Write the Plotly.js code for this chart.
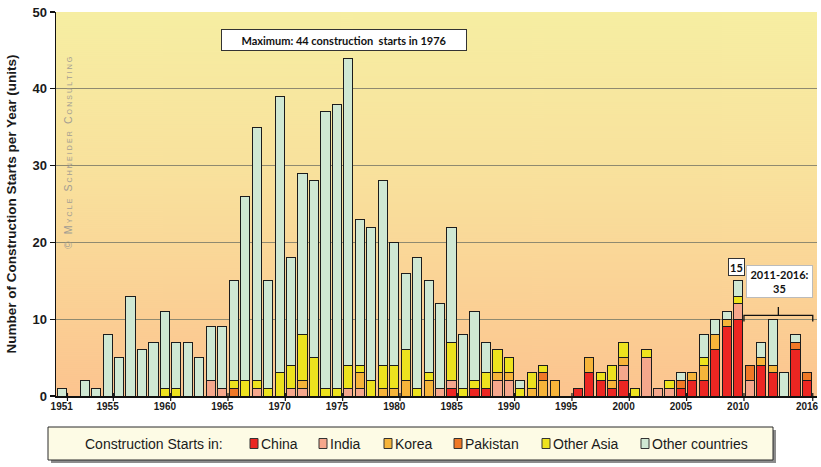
<!DOCTYPE html>
<html>
<head>
<meta charset="utf-8">
<script src="https://cdn.plot.ly/plotly-3.0.1.min.js"></script>
<style>
  html, body { margin: 0; padding: 0; background: #ffffff; }
  #chart { width: 821px; height: 467px; }
</style>
</head>
<body>
<div id="chart"></div>
<script>
// Reactor construction starts per year, by country group
const years = [1951,1952,1953,1954,1955,1956,1957,1958,1959,1960,
               1961,1962,1963,1964,1965,1966,1967,1968,1969,1970,
               1971,1972,1973,1974,1975,1976,1977,1978,1979,1980,
               1981,1982,1983,1984,1985,1986,1987,1988,1989,1990,
               1991,1992,1993,1994,1995,1996,1997,1998,1999,2000,
               2001,2002,2003,2004,2005,2006,2007,2008,2009,2010,
               2011,2012,2013,2014,2015,2016];

const china          = [0,0,0,0,0,0,0,0,0,0, 0,0,0,0,0,0,0,0,0,0, 0,0,0,0,0,0,0,0,0,0, 0,0,0,0,1,0,1,1,0,0, 0,0,0,0,0,1,3,2,1,2, 0,0,0,0,1,2,2,6,9,10, 0,4,3,0,6,2];
const india          = [0,0,0,0,0,0,0,0,0,0, 0,0,0,2,1,0,0,1,0,0, 1,1,0,0,0,1,1,0,0,0, 0,0,0,1,1,0,0,0,2,2, 0,0,0,0,0,0,0,0,0,2, 0,5,1,1,0,0,0,0,0,2, 2,0,0,0,0,0];
const korea          = [0,0,0,0,0,0,0,0,0,0, 0,0,0,0,0,0,0,0,0,0, 0,1,0,0,0,0,2,0,1,1, 2,0,2,0,0,0,0,0,1,1, 0,1,2,2,0,0,2,0,1,1, 0,0,0,0,0,1,2,2,1,0, 0,1,1,0,0,0];
const pakistan       = [0,0,0,0,0,0,0,0,0,0, 0,0,0,0,0,1,0,0,0,0, 0,0,0,0,0,0,0,0,0,0, 0,0,0,0,0,0,0,0,0,0, 0,0,1,0,0,0,0,0,0,0, 0,0,0,0,1,0,0,0,0,0, 2,0,0,0,1,1];
const otherAsia      = [0,0,0,0,0,0,0,0,0,1, 1,0,0,0,0,1,2,1,1,3, 3,6,5,1,1,3,1,2,3,3, 4,1,1,0,5,1,1,2,3,2, 1,2,1,0,0,0,0,1,2,2, 1,1,0,1,0,0,1,0,0,1, 0,0,0,0,0,0];
const otherCountries = [1,0,2,1,8,5,13,6,7,10, 6,7,5,7,8,13,24,33,14,36, 14,21,23,36,37,40,19,20,24,16, 10,17,12,11,15,7,9,4,0,0, 1,0,0,0,0,0,0,0,0,0, 0,0,0,0,1,0,3,2,1,2, 0,2,6,3,1,0];

const tickYears = [1951,1955,1960,1965,1970,1975,1980,1985,1990,1995,2000,2005,2010,2016];

const seriesNames  = ['China', 'India', 'Korea', 'Pakistan', 'Other Asia', 'Other countries'];
const seriesColors = ['#ec2622', '#f5a78c', '#f6b43a', '#ef7826', '#ede21e', '#cfe8d3'];
const seriesValues = [china, india, korea, pakistan, otherAsia, otherCountries];

// Yearly totals feed the callout labels
const totals = years.map((_, i) => seriesValues.reduce((s, arr) => s + arr[i], 0));
const maxTotal = Math.max(...totals);
const maxYear = years[totals.indexOf(maxTotal)];
const total2010 = totals[years.indexOf(2010)];
const sum2011to2016 = years.reduce((s, y, i) => s + (y >= 2011 && y <= 2016 ? totals[i] : 0), 0);

const traces = seriesNames.map((name, k) => ({
  type: 'bar',
  name: name,
  x: years,
  y: seriesValues[k].map(v => (v === 0 ? null : v)),
  marker: { color: seriesColors[k], line: { color: '#1c1c1c', width: 1 } },
  hoverinfo: 'skip'
}));

// Plot-area geometry in pixels (used to place the legend panel below the axes)
const W = 821, H = 467;
const M = { l: 56, r: 4, t: 12, b: 71 };
const plotW = W - M.l - M.r, plotH = H - M.t - M.b;
const px = x => (x - M.l) / plotW;
const py = y => (H - M.b - y) / plotH;

// Warm vertical wash behind the plot area
function gradientURL() {
  const c = document.createElement('canvas');
  c.width = 4; c.height = plotH;
  const g = c.getContext('2d');
  const grad = g.createLinearGradient(0, 0, 0, plotH);
  grad.addColorStop(0, '#f6eea2');
  grad.addColorStop(0.45, '#f9e09c');
  grad.addColorStop(1, '#fcc48f');
  g.fillStyle = grad;
  g.fillRect(0, 0, 4, plotH);
  return c.toDataURL();
}

// Small tick marks at category boundaries under each labelled year
const tickShapes = tickYears.map(y => ({
  type: 'line', xref: 'x', yref: 'paper',
  x0: y + 0.5, x1: y + 0.5, y0: -0.013, y1: 0.008,
  line: { color: '#111', width: 1.2 }
}));

// Brace spanning 2011-2016
const bx0 = 2010.5, bx1 = 2016.5, bxm = 2013.5;
const braceShape = {
  type: 'path', xref: 'x', yref: 'y',
  path: `M ${bx0},9.7 L ${bx0},10.5 L ${bx1},10.5 L ${bx1},9.7 M ${bxm},10.5 L ${bxm},11.6`,
  line: { color: '#111', width: 1.3 }
};

// Legend panel: shadow, framed box, swatches and labels
const legendBox = { x0: 48, x1: 773, y0: 427, y1: 460 };
const legendMidY = (legendBox.y0 + legendBox.y1) / 2;
const swatchLeft = [250, 319, 384, 454, 542, 641];
const legendShapes = [
  { type: 'rect', xref: 'paper', yref: 'paper', layer: 'above',
    x0: px(legendBox.x0 + 3), x1: px(legendBox.x1 + 3), y0: py(legendBox.y1 + 3), y1: py(legendBox.y0 + 3),
    fillcolor: '#8c8c8c', line: { width: 0 } },
  { type: 'rect', xref: 'paper', yref: 'paper', layer: 'above',
    x0: px(legendBox.x0), x1: px(legendBox.x1), y0: py(legendBox.y1), y1: py(legendBox.y0),
    fillcolor: '#fdfbe5', line: { color: '#2a2a2a', width: 1 } }
].concat(seriesNames.map((_, k) => ({
  type: 'rect', xref: 'paper', yref: 'paper', layer: 'above',
  x0: px(swatchLeft[k]), x1: px(swatchLeft[k] + 8),
  y0: py(legendMidY + 5), y1: py(legendMidY - 5),
  fillcolor: seriesColors[k], line: { color: '#333', width: 1 }
})));

const legendFont = { family: '"Liberation Sans", Arial, sans-serif', size: 14, color: '#1a1a1a' };
const legendLabels = [{
  x: px(83), y: py(legendMidY), xref: 'paper', yref: 'paper',
  xanchor: 'left', yanchor: 'middle', showarrow: false,
  text: 'Construction Starts in:', font: legendFont
}].concat(seriesNames.map((name, k) => ({
  x: px(swatchLeft[k] + 9), y: py(legendMidY), xref: 'paper', yref: 'paper',
  xanchor: 'left', yanchor: 'middle', showarrow: false,
  text: name, font: legendFont
})));

const boldNote = { family: 'Lato, "Liberation Sans", Arial, sans-serif', size: 11, weight: 'bold', color: '#111' };

// Spaced-out watermark lettering
const watermark = '© Mycle Schneider Consulting'.split('').join('\u2009');

const layout = {
  width: W, height: H,
  margin: M,
  paper_bgcolor: '#ffffff',
  plot_bgcolor: 'rgba(0,0,0,0)',
  barmode: 'stack',
  bargap: 0.2,
  showlegend: false,
  font: { family: '"Liberation Sans", Arial, sans-serif', color: '#1a1a1a' },
  xaxis: {
    range: [1950.5, 2016.87],
    tickvals: tickYears,
    ticktext: tickYears.map(String),
    ticks: '',
    showgrid: false,
    zeroline: false,
    showline: true, linecolor: '#111', linewidth: 1.5,
    tickfont: { size: 10, weight: 'bold', color: '#1a1a1a' }
  },
  yaxis: {
    range: [0, 50],
    tick0: 0, dtick: 10,
    ticks: 'outside', ticklen: 5, tickcolor: '#111', tickwidth: 1.2,
    showline: true, linecolor: '#111', linewidth: 1.5,
    showgrid: true, gridcolor: '#8f8a70', gridwidth: 1,
    zeroline: false,
    tickfont: { size: 13, weight: 'bold', color: '#1a1a1a' },
    title: {
      text: 'Number of Construction Starts per Year (units)',
      font: { size: 13.5, weight: 'bold', color: '#1a1a1a' },
      standoff: 12
    }
  },
  images: [{
    source: gradientURL(),
    xref: 'paper', yref: 'paper',
    x: 0, y: 1, sizex: 1, sizey: 1,
    xanchor: 'left', yanchor: 'top',
    sizing: 'stretch', layer: 'below'
  }],
  shapes: tickShapes.concat([braceShape], legendShapes),
  annotations: [
    {
      x: maxYear - 0.4, y: 46.4, xref: 'x', yref: 'y',
      text: `Maximum: ${maxTotal} construction  starts in ${maxYear}`,
      showarrow: false, width: 242, height: 18,
      bgcolor: '#ffffff', bordercolor: '#333', borderwidth: 1,
      font: boldNote
    },
    {
      x: 2009.85, y: total2010, xref: 'x', yref: 'y',
      yanchor: 'bottom', yshift: 5,
      text: String(total2010),
      showarrow: false, width: 13, height: 14,
      bgcolor: '#ffffff', bordercolor: '#333', borderwidth: 1,
      font: boldNote
    },
    {
      x: 2013.6, y: 12.8, xref: 'x', yref: 'y',
      yanchor: 'bottom',
      text: `2011-2016:<br>${sum2011to2016}`,
      showarrow: false, width: 63, height: 29,
      bgcolor: '#ffffff', bordercolor: '#bbb', borderwidth: 1,
      font: boldNote
    },
    {
      x: px(68), y: py(153), xref: 'paper', yref: 'paper',
      xanchor: 'center', yanchor: 'middle',
      text: watermark,
      textangle: -90, showarrow: false,
      font: { size: 10.5, color: '#a39d92', variant: 'small-caps' }
    }
  ].concat(legendLabels)
};

Plotly.newPlot('chart', traces, layout, { staticPlot: true, displayModeBar: false });
</script>
</body>
</html>
